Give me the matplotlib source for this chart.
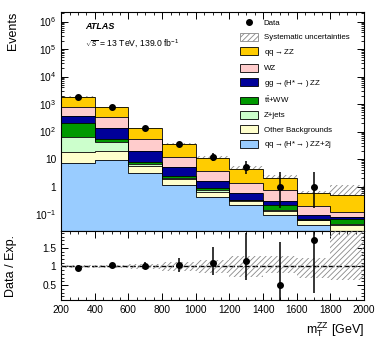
import numpy as np
import matplotlib
matplotlib.use('Agg')
import matplotlib.pyplot as plt
from matplotlib.patches import Patch
from matplotlib.lines import Line2D
from matplotlib.ticker import FixedLocator, MultipleLocator, LogLocator, NullFormatter, FuncFormatter

plt.rcParams['font.family'] = ['Liberation Sans', 'DejaVu Sans']
plt.rcParams['mathtext.fontset'] = 'custom'
plt.rcParams['mathtext.rm'] = 'Liberation Sans'
plt.rcParams['mathtext.it'] = 'Liberation Sans:italic'
plt.rcParams['mathtext.bf'] = 'Liberation Sans:bold'
plt.rcParams['hatch.linewidth'] = 0.6

# m_T^ZZ bins (GeV)
edges = np.arange(200, 2001, 200)
centers = edges[:-1] + 100

# expected yields per process, stacked bottom -> top
qqzz_2j = [6.9, 9.2, 3.0, 1.13, 0.43, 0.21, 0.091, 0.040, 0.015]
other = [11.5, 10.8, 2.7, 0.74, 0.22, 0.09, 0.039, 0.020, 0.025]
zjets = [46.6, 22.6, 0.9, 0.23, 0.09, 0.02, 0.01, 0.002, 0.002]
ttww = [145, 9.4, 1.4, 0.4, 0.12, 0.01, 0.08, 0.002, 0.022]
ggzz = [150, 78, 12, 2.5, 0.72, 0.23, 0.08, 0.026, 0.015]
wz = [440, 200, 32, 6.5, 2.2, 0.74, 0.42, 0.11, 0.041]
qqzz = [1060, 430, 79, 23.5, 7.2, 3.1, 1.28, 0.38, 0.38]

# relative systematic uncertainty (up / down)
sys_up = [0.04, 0.04, 0.06, 0.12, 0.18, 0.27, 0.27, 0.22, 1.2]
sys_dn = [0.04, 0.04, 0.06, 0.12, 0.18, 0.27, 0.18, 0.30, 0.36]

# observed data (last bin empty)
data = [1790, 790, 133, 36, 12, 5, 1, 1]
data_lo = [42, 28, 11.5, 6.0, 3.4, 2.2, 0.83, 0.83]
data_hi = [43, 29, 12.5, 7.0, 4.6, 3.4, 2.3, 2.3]

stack = [qqzz_2j, other, zjets, ttww, ggzz, wz, qqzz]
colors = ['#99ccff', '#ffffcc', '#ccffcc', '#009900', '#000099', '#ffcccc', '#ffcc00']
labels = [r'qq$\rightarrow$(H*$\rightarrow$) ZZ+2j', 'Other Backgrounds', 'Z+jets',
          r't$\bar{\mathrm{t}}$+WW', r'gg$\rightarrow$(H*$\rightarrow$) ZZ', 'WZ',
          r'qq$\rightarrow$ZZ']

fig = plt.figure(figsize=(3.82, 3.46), dpi=100)
ax = fig.add_axes([0.160, 0.332, 0.793, 0.633])
rax = fig.add_axes([0.160, 0.133, 0.793, 0.199])

# stacked histogram
bottom = np.full(len(edges) - 1, 1e-6)
for vals, c in zip(stack, colors):
    top = bottom + np.array(vals)
    ax.stairs(top, edges, baseline=bottom, fill=True, facecolor=c, edgecolor='none', zorder=2)
    ax.stairs(top, edges, baseline=None, color='black', lw=0.6, zorder=3)
    bottom = top
total = bottom

up = total * (1 + np.array(sys_up))
dn = total * (1 - np.array(sys_dn))
ax.stairs(up, edges, baseline=dn, fill=True, facecolor='none', edgecolor='#888888',
          hatch='//////', lw=0, zorder=1)

ax.errorbar(centers[:len(data)], data, yerr=[data_lo, data_hi], fmt='o', color='black',
            ms=4, elinewidth=1.1, capsize=0, zorder=5)

ax.set_yscale('log')
ax.set_ylim(0.024, 2.2e6)
ax.set_xlim(200, 2000)
rax.set_xlim(200, 2000)

def logfmt(v, pos):
    e = int(round(np.log10(v)))
    if e == 0:
        return '1'
    if e == 1:
        return '10'
    return r'$10^{%d}$' % e

ax.yaxis.set_major_locator(FixedLocator([0.1, 1, 10, 1e2, 1e3, 1e4, 1e5, 1e6]))
ax.yaxis.set_major_formatter(FuncFormatter(logfmt))
ax.yaxis.set_minor_locator(LogLocator(base=10, subs=np.arange(2, 10), numticks=20))
ax.yaxis.set_minor_formatter(NullFormatter())
for a in (ax, rax):
    a.xaxis.set_major_locator(MultipleLocator(200))
    a.xaxis.set_minor_locator(MultipleLocator(50))
    a.tick_params(which='both', direction='in', top=True, right=True, labelsize=7.3)
    a.tick_params(which='major', length=5, width=0.7)
    a.tick_params(which='minor', length=2.5, width=0.6)
    for s in a.spines.values():
        s.set_linewidth(0.8)
ax.xaxis.set_major_formatter(NullFormatter())

ax.set_ylabel('Events', fontsize=9, loc='top')
ax.yaxis.set_label_coords(-0.14, 1.0)
ax.text(0.08, 0.955, 'ATLAS', transform=ax.transAxes, fontsize=6.5, fontweight='bold',
        fontstyle='italic', va='top')
ax.text(0.08, 0.88, r'$\sqrt{s}$ = 13 TeV, 139.0 fb$^{-1}$', transform=ax.transAxes,
        fontsize=6.2, va='top')

# legend
handles = [Line2D([], [], marker='o', color='black', ls='none', ms=4),
           Patch(facecolor='white', edgecolor='#888888', hatch='//////', lw=0.6)]
leg_labels = ['Data', 'Systematic uncertainties']
for c, l in zip(colors[::-1], labels[::-1]):
    handles.append(Patch(facecolor=c, edgecolor='black', lw=0.6))
    leg_labels.append(l)
ax.legend(handles, leg_labels, loc='upper left', bbox_to_anchor=(0.628, 0.947),
          bbox_transform=fig.transFigure, frameon=False, fontsize=5.7, borderpad=0,
          borderaxespad=0, handlelength=2.3, handleheight=1.15, handletextpad=0.7,
          labelspacing=0.72)

# ratio panel
r_up = 1 + np.array(sys_up)
r_dn = 1 - np.array(sys_dn)
rax.axhline(1, color='black', lw=1.0, ls=(0, (4, 1.5)), zorder=2)
rax.stairs(r_up, edges, baseline=r_dn, fill=True, facecolor='none', edgecolor='#888888',
           hatch='//////', lw=0, zorder=3)
n = len(data)
ratio = np.array(data) / total[:n]
r_lo = np.array(data_lo) / total[:n]
r_hi = np.array(data_hi) / total[:n]
rax.errorbar(centers[:n], ratio, yerr=[r_lo, r_hi], fmt='o', color='black', ms=4,
             elinewidth=1.1, capsize=0, zorder=5)
rax.set_ylim(0.1, 1.95)
rax.yaxis.set_major_locator(FixedLocator([0.5, 1, 1.5]))
rax.yaxis.set_major_formatter(FuncFormatter(lambda v, p: '%g' % v))
rax.yaxis.set_minor_locator(MultipleLocator(0.1))
rax.set_ylabel('Data / Exp.', fontsize=9)
rax.yaxis.set_label_coords(-0.145, 0.5)
rax.set_xlabel(r'm$_{\mathrm{T}}^{\mathrm{ZZ}}$ [GeV]', fontsize=9, loc='right')

fig.savefig('out.png', dpi=100)
